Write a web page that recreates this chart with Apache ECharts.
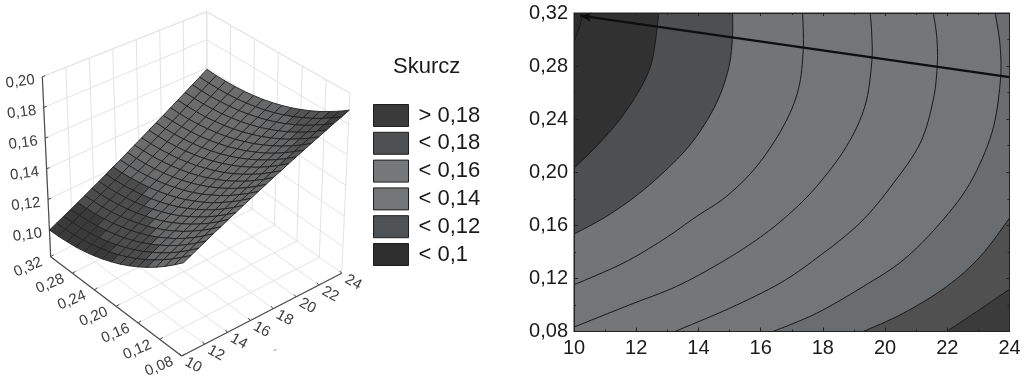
<!DOCTYPE html>
<html><head><meta charset="utf-8">
<style>html,body{margin:0;padding:0;background:#fff}#c{width:1024px;height:387px}</style>
<script src="https://cdn.jsdelivr.net/npm/echarts@6/dist/echarts.min.js"></script>
</head><body><div id="c"></div>
<script>
const legendTitle = 'Skurcz';
const legendNames = ['> 0,18','< 0,18','< 0,16','< 0,14','< 0,12','< 0,1'];
const legendColors = ['#3a3a3a','#4f5051','#767778','#747576','#4f5254','#2f2f2f'];
const xTicks = [10,12,14,16,18,20,22,24];
const yTicks = [0.08,0.12,0.16,0.20,0.24,0.28,0.32];
const zTicks = [0.10,0.12,0.14,0.16,0.18,0.20];
const zMin = 0.0826, zMax = 0.20;

// contour lines of the right panel, as [x, y]
const contour0 = [[10,0.2987],[10.18,0.3099],[10.29,0.32]];
const contour1 = [[10,0.2031],[10.72,0.2195],[11.47,0.2396],[12.11,0.2622],[12.49,0.2823],[12.68,0.3099],[12.71,0.32]];
const contour2 = [[10,0.1534],[11.04,0.1667],[12.11,0.1843],[13.19,0.2069],[13.94,0.2270],[14.58,0.2521],[14.96,0.2773],[15.09,0.2999],[15.10,0.32]];
const contour3 = [[10,0.1152],[11.58,0.1315],[12.86,0.1491],[13.94,0.1667],[14.90,0.1818],[15.87,0.2044],[16.73,0.2346],[17.21,0.2622],[17.37,0.2924],[17.35,0.32]];
const contour4 = [[10,0.0833],[11.79,0.1001],[13.29,0.1139],[14.69,0.1315],[15.87,0.1491],[16.83,0.1667],[17.80,0.1893],[18.76,0.2195],[19.35,0.2496],[19.57,0.2823],[19.57,0.3049],[19.52,0.32]];
const contour5 = [[13.24,0.08],[15.01,0.0976],[16.62,0.1164],[17.80,0.1353],[19.19,0.1617],[20.27,0.1918],[21.13,0.2220],[21.55,0.2547],[21.68,0.2823],[21.66,0.3024],[21.55,0.32]];
const contour6 = [[16.40,0.08],[17.80,0.0938],[19.30,0.1139],[20.59,0.1340],[21.77,0.1617],[22.73,0.1918],[23.43,0.2295],[23.70,0.2672],[23.70,0.2949],[23.54,0.32]];
const contour7 = [[19.30,0.08],[20.59,0.0938],[21.98,0.1139],[23.06,0.1365],[24,0.1654]];
const contour8 = [[21.98,0.08],[22.95,0.0951],[24,0.1119]];
const bandColors = ['#2c2c2c','#313131','#4e4f50','#737475','#747576','#757677','#737577','#6a6d6f','#505051','#3b3b3b'];
const surfaceLevels = [0.109,0.122,0.127,0.138,0.149,0.16,0.168,0.18];
const surfaceColors = ['#3a3a3a','#4c4c4d','#666768','#6c6c6d','#6c6c6d','#6c6c6d','#666768','#555556','#404040'];
const leadLine = [[10.2,0.318],[24,0.2717]];

// surface heights: one row per x grid line (10 to 24), one column per y grid line (0.32 to 0.08)
const surfaceZ = [
[.1000,.1002,.1007,.1015,.1027,.1042,.1061,.1083,.1108,.1137,.1169,.1204,.1243,.1285,.1331,.1380],
[.1022,.1024,.1028,.1037,.1049,.1065,.1083,.1105,.1131,.1159,.1192,.1228,.1267,.1309,.1355,.1403],
[.1043,.1045,.1050,.1058,.1071,.1086,.1105,.1128,.1153,.1182,.1215,.1250,.1289,.1331,.1377,.1426],
[.1065,.1068,.1073,.1082,.1094,.1110,.1128,.1151,.1176,.1206,.1238,.1274,.1312,.1355,.1401,.1449],
[.1088,.1091,.1096,.1105,.1117,.1133,.1152,.1174,.1199,.1228,.1261,.1296,.1335,.1378,.1424,.1474],
[.1111,.1114,.1119,.1128,.1140,.1156,.1175,.1197,.1222,.1251,.1284,.1319,.1359,.1401,.1446,.1496],
[.1136,.1138,.1143,.1152,.1164,.1180,.1199,.1221,.1246,.1276,.1308,.1343,.1382,.1424,.1470,.1520],
[.1159,.1161,.1167,.1175,.1187,.1204,.1222,.1245,.1269,.1298,.1331,.1367,.1405,.1448,.1493,.1542],
[.1185,.1187,.1192,.1201,.1213,.1228,.1247,.1269,.1294,.1323,.1355,.1391,.1429,.1471,.1517,.1566],
[.1211,.1212,.1218,.1226,.1238,.1254,.1272,.1294,.1319,.1348,.1379,.1414,.1454,.1495,.1541,.1589],
[.1235,.1238,.1243,.1251,.1263,.1278,.1297,.1318,.1343,.1371,.1404,.1438,.1477,.1519,.1564,.1612],
[.1263,.1264,.1269,.1277,.1289,.1304,.1322,.1344,.1368,.1397,.1428,.1463,.1501,.1542,.1587,.1635],
[.1290,.1292,.1296,.1304,.1316,.1330,.1348,.1370,.1394,.1422,.1453,.1488,.1525,.1567,.1610,.1659],
[.1317,.1318,.1322,.1331,.1341,.1356,.1374,.1395,.1419,.1446,.1477,.1511,.1549,.1589,.1634,.1681],
[.1346,.1347,.1350,.1358,.1368,.1383,.1400,.1421,.1445,.1472,.1502,.1536,.1573,.1614,.1658,.1705],
[.1375,.1375,.1379,.1386,.1397,.1410,.1427,.1447,.1471,.1498,.1528,.1562,.1599,.1638,.1682,.1728],
[.1403,.1404,.1407,.1414,.1423,.1437,.1454,.1473,.1497,.1523,.1553,.1585,.1622,.1662,.1705,.1751],
[.1433,.1433,.1436,.1442,.1452,.1465,.1481,.1500,.1524,.1549,.1579,.1611,.1647,.1686,.1728,.1774],
[.1463,.1463,.1465,.1470,.1480,.1492,.1508,.1528,.1550,.1575,.1604,.1636,.1671,.1710,.1751,.1797],
[.1494,.1494,.1495,.1501,.1509,.1522,.1536,.1555,.1576,.1602,.1630,.1661,.1696,.1734,.1776,.1820],
[.1526,.1524,.1525,.1531,.1539,.1550,.1565,.1583,.1604,.1628,.1656,.1687,.1721,.1759,.1800,.1844],
[.1557,.1555,.1557,.1560,.1568,.1579,.1593,.1610,.1631,.1655,.1682,.1713,.1746,.1783,.1823,.1866],
[.1590,.1587,.1588,.1591,.1598,.1609,.1622,.1639,.1659,.1682,.1709,.1738,.1771,.1808,.1847,.1890]
];

const contours = [contour8,contour7,contour6,contour5,contour4,contour3,contour2,contour1,contour0];

const FONT = '"Liberation Sans", Arial, sans-serif';
const decimal = (v) => v.toFixed(2).replace('.', ',');

// ---- 3D box projection (layout of the box on the page) ----
const floorC = {l:[50.7,256.7], f:[181.7,356], r:[341.7,273.3], b:[207.3,176.7]};
const topC   = {l:[42.3,76.7],  f:[185.7,158.3], r:[350,93.3],  b:[206.7,11.7]};
const xMin = xTicks[0], xMax = xTicks[xTicks.length-1];
const yMin = yTicks[0], yMax = yTicks[yTicks.length-1];
function bil(c,u,v){
  const a=(1-u)*(1-v), b=(1-u)*v, d=u*v, e=u*(1-v);
  return [a*c.l[0]+b*c.f[0]+d*c.r[0]+e*c.b[0], a*c.l[1]+b*c.f[1]+d*c.r[1]+e*c.b[1]];
}
function project(x,y,z){
  const u=(x-xMin)/(xMax-xMin), v=(yMax-y)/(yMax-yMin), w=(z-zMin)/(zMax-zMin);
  const p=bil(floorC,u,v), q=bil(topC,u,v);
  return [p[0]+(q[0]-p[0])*w, p[1]+(q[1]-p[1])*w];
}
const seg=(a,b,stroke,lw)=>({type:'line',shape:{x1:a[0],y1:a[1],x2:b[0],y2:b[1]},style:{stroke,lineWidth:lw},silent:true});
const label=(p,text,rot,font,fill)=>({type:'text',x:p[0],y:p[1],rotation:rot,silent:true,
  style:{x:0,y:0,text,font,fill,align:'center',verticalAlign:'middle'}});

function renderBox(){
  const ch=[], W='#e3e3e3', A='#4a4a4a';
  // walls and floor grid
  xTicks.forEach(x=>{
    ch.push(seg(project(x,yMax,zMin),project(x,yMax,zMax),W,1));
    ch.push(seg(project(x,yMin,zMin),project(x,yMax,zMin),W,1));
  });
  yTicks.forEach(y=>{
    ch.push(seg(project(xMax,y,zMin),project(xMax,y,zMax),W,1));
    ch.push(seg(project(xMin,y,zMin),project(xMax,y,zMin),W,1));
  });
  zTicks.forEach(z=>{
    ch.push(seg(project(xMin,yMax,z),project(xMax,yMax,z),W,1));
    ch.push(seg(project(xMax,yMax,z),project(xMax,yMin,z),W,1));
  });
  ch.push(seg(project(xMin,yMax,zMax),project(xMax,yMax,zMax),W,1));
  ch.push(seg(project(xMax,yMax,zMax),project(xMax,yMin,zMax),W,1));
  // axis lines
  ch.push(seg(project(xMin,yMax,zMin),project(xMin,yMax,zMax),A,1.2));
  ch.push(seg(project(xMin,yMax,zMin),project(xMin,yMin,zMin),A,1.2));
  ch.push(seg(project(xMin,yMin,zMin),project(xMax,yMin,zMin),A,1.2));
  // ticks and labels
  const tf='15px '+FONT, tc='#3c3c3c';
  zTicks.forEach(z=>{
    const p=project(xMin,yMax,z);
    ch.push(seg(p,[p[0]+3,p[1]-1],A,1));
    ch.push(label([p[0]-22,p[1]+5],decimal(z),0.13,tf,tc));
  });
  yTicks.forEach(y=>{
    const p=project(xMin,y,zMin);
    ch.push(seg(p,[p[0]+3,p[1]-2],A,1));
    ch.push(label([p[0]-22.5,p[1]+10.5],decimal(y),0.4,tf,tc));
  });
  xTicks.forEach(x=>{
    const p=project(x,yMin,zMin);
    ch.push(seg(p,[p[0]-2,p[1]-2.5],A,1));
    ch.push(label([p[0]+11.5,p[1]+9],String(x),-0.5,tf,tc));
  });
  ch.push(label([275,350],'-',0.4,'12px '+FONT,'#9a9a9a'));
  return {type:'group',children:ch};
}

// ---- surface ----
const cells=[];
const nx=surfaceZ.length, ny=surfaceZ[0].length;
const gx=i=>xMin+(xMax-xMin)*i/(nx-1), gy=j=>yMax-(yMax-yMin)*j/(ny-1);
for(let i=nx-2;i>=0;i--) for(let j=0;j<ny-1;j++) cells.push([i,j]);
function bandOf(z){let k=0; while(k<surfaceLevels.length && z>=surfaceLevels[k]) k++; return surfaceColors[k];}
function renderCell(params){
  const [i,j]=cells[params.dataIndex];
  const c=[[i,j],[i+1,j],[i+1,j+1],[i,j+1]];
  const pts=c.map(([a,b])=>project(gx(a),gy(b),surfaceZ[a][b]));
  const m=c.reduce((s,[a,b])=>s+surfaceZ[a][b],0)/4;
  return {type:'polygon',shape:{points:pts},silent:true,
    style:{fill:bandOf(m),stroke:'#202020',lineWidth:0.9}};
}

// ---- contour panel ----
function spline(p){
  const out=[];
  for(let i=0;i<p.length-1;i++){
    const a=p[Math.max(i-1,0)],b=p[i],c=p[i+1],d=p[Math.min(i+2,p.length-1)];
    for(let s=0;s<8;s++){
      const t=s/8,t2=t*t,t3=t2*t;
      out.push([0,1].map(k=>0.5*(2*b[k]+(c[k]-a[k])*t+(2*a[k]-5*b[k]+4*c[k]-d[k])*t2+(3*b[k]-a[k]-3*c[k]+d[k])*t3)));
    }
  }
  out.push(p[p.length-1]);
  return out;
}
function renderContour(params,api){
  const k=params.dataIndex, line=contours[k];
  const pix=spline(line.map(p=>api.coord(p)));
  const first=line[0], last=line[line.length-1];
  const closure=[];
  if(last[0]===xMax) closure.push([xMax,yMax]);
  closure.push([xMin,yMax]);
  if(first[0]!==xMin) closure.push([xMin,yMin]);
  const area=pix.concat(closure.map(p=>api.coord(p)));
  return {type:'group',children:[
    {type:'polygon',shape:{points:area},silent:true,style:{fill:bandColors[contours.length-1-k],stroke:null}},
    {type:'polyline',shape:{points:pix},silent:true,style:{fill:null,stroke:'#191919',lineWidth:1}}
  ]};
}

const axisText={color:'#1a1a1a',fontFamily:FONT,fontSize:20};
const tickLine={lineStyle:{color:'#222',width:1}};
const axisBase={splitLine:{show:false},z:10,axisLine:{show:true,onZero:false,lineStyle:{color:'#222'}},
  minorTick:{show:true,splitNumber:2,length:2,...tickLine}};
const option={
  animation:false,
  backgroundColor:'#fff',
  title:{text:legendTitle,left:393,top:56,padding:0,textStyle:{fontFamily:FONT,fontSize:22,fontWeight:'normal',color:'#1a1a1a'}},
  legend:{show:true,orient:'vertical',left:373,top:104,padding:0,itemWidth:35,itemHeight:22,itemGap:4.8,icon:'rect',
    data:legendNames,selectedMode:false,
    itemStyle:{borderColor:'#1e1e1e',borderWidth:1,opacity:1},
    textStyle:{fontFamily:FONT,fontSize:22,color:'#1a1a1a',lineHeight:22,padding:[0,0,0,5]}},
  grid:{left:574,top:13,width:435.5,height:318.5,show:true,backgroundColor:bandColors[bandColors.length-1],borderColor:'#2a2a2a',borderWidth:1},
  xAxis:[
    {type:'value',min:xMin,max:xMax,interval:2,position:'bottom',...axisBase,
     axisTick:{show:true,inside:true,length:4,...tickLine},
     axisLabel:{...axisText,margin:7,hideOverlap:false}},
    {type:'value',min:xMin,max:xMax,interval:2,position:'top',...axisBase,
     axisTick:{show:true,inside:true,length:3,...tickLine},
     axisLabel:{show:false}}
  ],
  yAxis:[
    {type:'value',min:yMin,max:yMax,interval:0.04,position:'left',...axisBase,
     axisTick:{show:true,inside:true,length:4,...tickLine},
     axisLabel:{...axisText,margin:6,hideOverlap:false,formatter:decimal}},
    {type:'value',min:yMin,max:yMax,interval:0.04,position:'right',...axisBase,
     axisTick:{show:true,inside:true,length:3,...tickLine},
     axisLabel:{show:false}}
  ],
  series:[
    {type:'custom',coordinateSystem:'none',silent:true,z:1,data:[[0]],renderItem:renderBox},
    {type:'custom',coordinateSystem:'none',silent:true,z:2,data:cells.map((c,i)=>[i]),renderItem:renderCell},
    {type:'custom',coordinateSystem:'cartesian2d',silent:true,z:3,clip:true,xAxisIndex:0,yAxisIndex:0,
     data:contours.map((c,i)=>[c[0][0],c[0][1]]),renderItem:renderContour},
    {type:'line',silent:true,z:4,xAxisIndex:0,yAxisIndex:0,data:leadLine,symbol:'none',lineStyle:{color:'#0e0e0e',width:2.4}},
    {type:'scatter',silent:true,xAxisIndex:0,yAxisIndex:0,data:[[leadLine[0][0],leadLine[0][1]]],symbol:'arrow',symbolSize:[7,11],symbolRotate:82,z:5,itemStyle:{color:'#0e0e0e',opacity:1}},
    ...legendNames.map((n,i)=>({type:'scatter',name:n,xAxisIndex:0,yAxisIndex:0,data:[],itemStyle:{color:legendColors[i],opacity:1}}))
  ]
};
const chart=echarts.init(document.getElementById('c'),null,{renderer:'canvas',width:1024,height:387});
chart.setOption(option);
</script></body></html>
